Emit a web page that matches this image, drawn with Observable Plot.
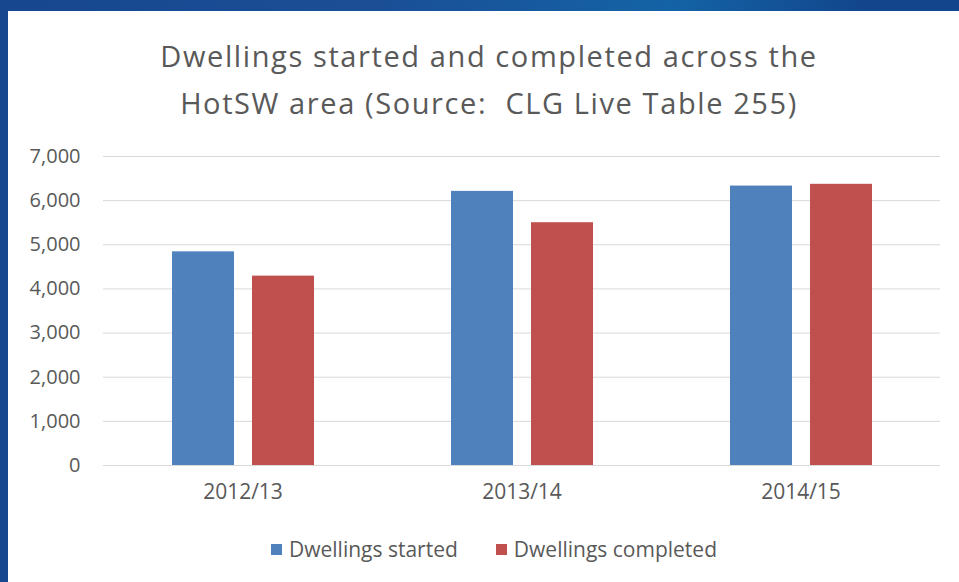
<!DOCTYPE html>
<html>
<head>
<meta charset="utf-8">
<script src="https://cdn.jsdelivr.net/npm/d3@7"></script>
<script src="https://cdn.jsdelivr.net/npm/@observablehq/plot@0.6"></script>
<style>
  html, body { margin: 0; padding: 0; }
  body {
    width: 959px; height: 582px; overflow: hidden; position: relative;
    background: linear-gradient(90deg, #16478f 0%, #1a4f96 40%, #1463a6 70%, #12468c 90%);
  }
  #panel {
    position: absolute; left: 8px; top: 11px; width: 951px; height: 571px;
    background: #ffffff;
  }
  #title {
    position: absolute; left: -8px; top: 21px; width: 978px;
    text-align: center; font-family: "Open Sans", sans-serif; font-size: 29px;
    letter-spacing: 1.6px;
    line-height: 47px; color: #595959; white-space: pre;
  }
  #chart { position: absolute; left: -8px; top: 129px; }
  #legend {
    position: absolute; left: 263px; top: 524px; font-family: "Open Sans", sans-serif;
    font-size: 21px; color: #595959; display: flex; align-items: center; white-space: nowrap;
  }
  .sw { display: inline-block; width: 11px; height: 11px; margin-right: 7px; }
  .item { display: flex; align-items: center; margin-right: 38px; }
</style>
</head>
<body>
<div id="panel">
  <div id="title">Dwellings started and completed across the
HotSW area (Source:  CLG Live Table 255)</div>
  <div id="chart"></div>
  <div id="legend"></div>
</div>
<script>
const years = ["2012/13", "2013/14", "2014/15"];
const seriesNames = ["Dwellings started", "Dwellings completed"];
const started = [4840, 6210, 6330];
const completed = [4290, 5500, 6370];
const seriesColors = ["#4f81bd", "#c0504d"];
const yTicks = [0, 1000, 2000, 3000, 4000, 5000, 6000, 7000];

const rows = [];
years.forEach((yr, i) => {
  rows.push({year: yr, series: seriesNames[0], value: started[i]});
  rows.push({year: yr, series: seriesNames[1], value: completed[i]});
});

const chart = Plot.plot({
  width: 959,
  height: 380,
  marginLeft: 103,
  marginRight: 19,
  marginTop: 16,
  marginBottom: 55,
  style: {fontFamily: "Open Sans, sans-serif", color: "#595959", background: "transparent"},
  fx: {domain: years, padding: 0, label: null, axis: null},
  x: {domain: seriesNames, paddingInner: 0.225, paddingOuter: 0.856, axis: null},
  y: {domain: [0, 7000], label: null, axis: null},
  color: {domain: seriesNames, range: seriesColors},
  marks: [
    Plot.gridY(yTicks, {stroke: "#d9d9d9", strokeOpacity: 1, strokeWidth: 1}),
    Plot.barY(rows, {fx: "year", x: "series", y: "value", fill: "series"}),
    Plot.axisY({ticks: yTicks, tickFormat: d3.format(","), tickSize: 0, tickPadding: 23, fontSize: 20, label: null}),
    Plot.axisFx({tickSize: 0, tickPadding: 19, fontSize: 21, label: null, anchor: "bottom"})
  ]
});
document.getElementById("chart").appendChild(chart);

const legend = document.getElementById("legend");
seriesNames.forEach((name, i) => {
  const item = document.createElement("span");
  item.className = "item";
  const sw = document.createElement("span");
  sw.className = "sw";
  sw.style.background = seriesColors[i];
  item.appendChild(sw);
  item.appendChild(document.createTextNode(name));
  legend.appendChild(item);
});
</script>
</body>
</html>
